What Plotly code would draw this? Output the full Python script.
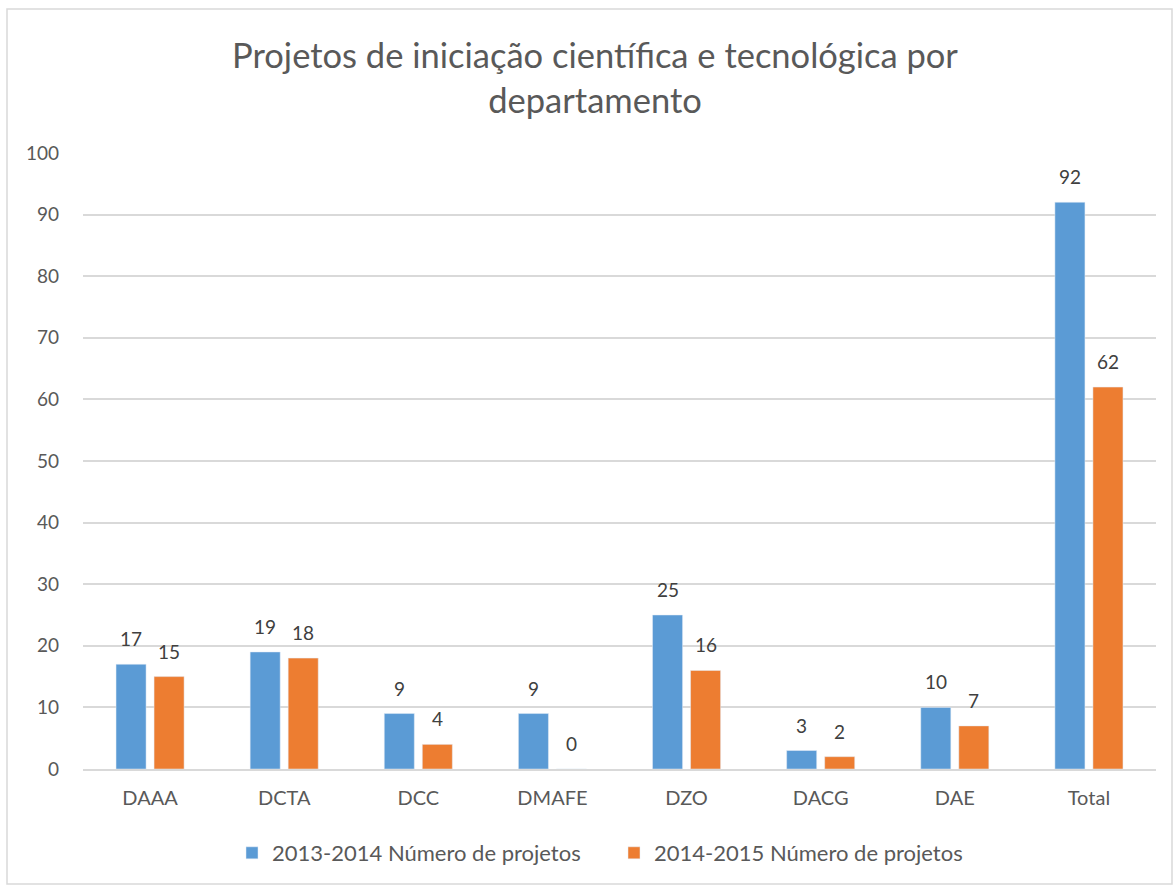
import plotly.graph_objects as go

categories = ["DAAA", "DCTA", "DCC", "DMAFE", "DZO", "DACG", "DAE", "Total"]
series_2013 = [17, 19, 9, 9, 25, 3, 10, 92]
series_2014 = [15, 18, 4, 0, 16, 2, 7, 62]
name_2013 = "2013-2014 Número de projetos"
name_2014 = "2014-2015 Número de projetos"
title = "Projetos de iniciação científica e tecnológica por<br>departamento"

W, H = 1175, 886
L, R, T, B = 83, 19, 153, 117
FONT = "Lato, 'Open Sans', sans-serif"

fig = go.Figure()
fig.add_trace(go.Bar(x=categories, y=series_2013, name=name_2013,
                     marker=dict(color="#5B9BD5")))
fig.add_trace(go.Bar(x=categories, y=series_2014, name=name_2014,
                     marker=dict(color="#ED7D31")))

for vals, shift in ((series_2013, -19), (series_2014, 19)):
    for c, v in zip(categories, vals):
        fig.add_annotation(x=c, y=v, text=str(v), showarrow=False,
                           xshift=shift, yshift=12, yanchor="bottom",
                           font=dict(size=19, color="#404040"))

pw = W - L - R
ph = H - T - B
fig.add_shape(type="rect", xref="paper", yref="paper",
              x0=(7 - L) / pw, x1=(1172 - L) / pw,
              y0=-(884 - (H - B)) / ph,
              y1=1 + (T - 9) / ph,
              line=dict(color="#D9D9D9", width=1.5), layer="below")

fig.update_layout(
    width=W, height=H,
    margin=dict(l=L, r=R, t=T, b=B),
    paper_bgcolor="white", plot_bgcolor="white",
    font=dict(family=FONT, color="#595959", size=18),
    title=dict(text=title, x=595 / W, xref="container", xanchor="center",
               y=1 - 68 / H, yanchor="middle",
               font=dict(size=34.5, color="#595959", family=FONT)),
    barmode="group", bargap=0.433, bargroupgap=0.21,
    showlegend=True,
    legend=dict(orientation="h", x=(232 - L) / pw, xanchor="left",
                y=-(853 - (H - B)) / ph,
                yanchor="middle", font=dict(size=22, color="#595959"),
                traceorder="normal", itemwidth=30,
                entrywidth=337, entrywidthmode="pixels"),
    xaxis=dict(showgrid=False, showline=True, linecolor="#D9D9D9", linewidth=1.5,
               ticks="", tickfont=dict(size=20, color="#595959"),
               ticklabelstandoff=10),
    yaxis=dict(range=[0, 100], dtick=10, showgrid=True, gridcolor="#D9D9D9",
               gridwidth=1.5, zeroline=False, showline=False, ticks="",
               tickfont=dict(size=19, color="#595959"), ticklabelstandoff=23),
)

fig.write_html("out.html", config={"displayModeBar": False},
               post_script="document.body.style.margin='0';")
